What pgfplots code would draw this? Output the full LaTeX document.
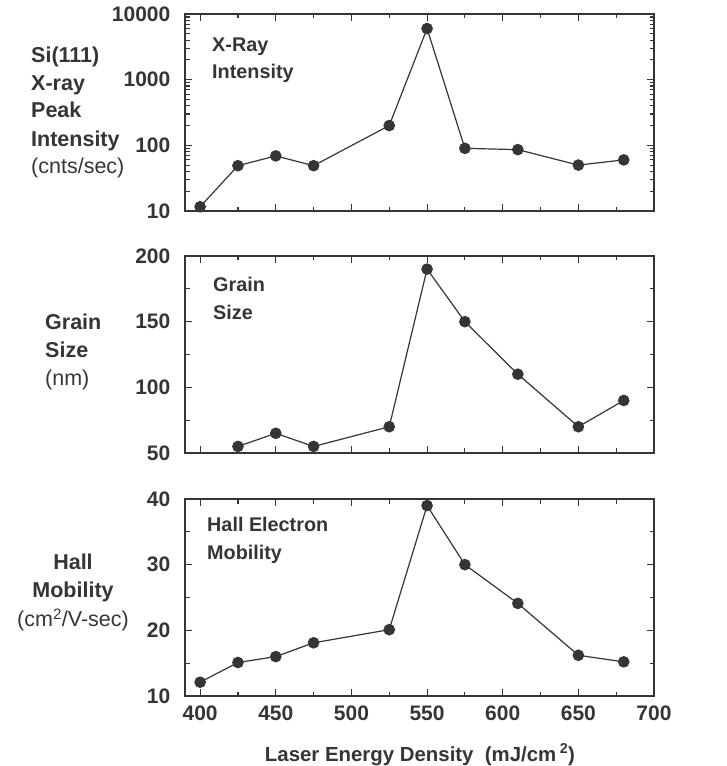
\documentclass[border=0pt]{standalone}
\usepackage{pgfplots}
\pgfplotsset{compat=1.18}
\usepackage{fontspec}
\setmainfont{Liberation Sans}
\definecolor{ink}{HTML}{353535}
\begin{document}
\fontsize{19.5}{23}\selectfont
\begin{tikzpicture}[x=1pt,y=1pt]
\path[use as bounding box] (0pt,0pt) rectangle (727pt,766pt);
\pgfplotsset{
  every axis/.append style={
    scale only axis, width=469pt, height=197pt, anchor=south west,
    xmin=390, xmax=700, clip=false,
    axis line style={ink, line width=1.4pt},
    every tick/.style={ink, line width=1.1pt},
    major tick length=7pt, minor tick length=4.5pt,
    tick align=inside,
    xtick={400,450,...,700},
    minor xtick={425,475,...,675},
    /pgf/number format/assume math mode=true,
    ticklabel style={font=\fontsize{21}{24}\selectfont\bfseries, text=ink},
    yticklabel style={xshift=-8pt},
    xticklabel style={yshift=-3pt},
  },
  dataline/.style={ink, line width=1.2pt, mark=*, mark size=5.2pt, mark options={fill=ink, draw=ink, solid}},
}
% ---- top: X-ray intensity (log)
\begin{axis}[at={(185pt,555pt)}, ymode=log, ymin=10, ymax=10000,
  ytick={10,100,1000,10000}, yticklabels={10,100,1000,10000},
  xticklabels={}]
\addplot[dataline] coordinates {(400,11.6) (425,49) (450,69) (475,49) (525,200) (550,6000) (575,90) (610,86) (650,50) (680,60)};
\end{axis}
% ---- middle: grain size
\begin{axis}[at={(185pt,313pt)}, ymin=50, ymax=200,
  ytick={50,100,150,200}, minor ytick={75,125,175},
  xticklabels={}]
\addplot[dataline] coordinates {(425,55) (450,65) (475,55) (525,70) (550,190) (575,150) (610,110) (650,70) (680,90)};
\end{axis}
% ---- bottom: Hall mobility
\begin{axis}[at={(185pt,70pt)}, ymin=10, ymax=40,
  ytick={10,20,30,40}, minor ytick={15,25,35},
  xticklabels={400,450,500,550,600,650,700}]
\addplot[dataline] coordinates {(400,12.1) (425,15.1) (450,16) (475,18.1) (525,20.1) (550,39) (575,30) (610,24.1) (650,16.2) (680,15.2)};
\end{axis}
% ---- left labels
\begin{scope}[every node/.style={text=ink, inner sep=0pt, font=\fontsize{21.5}{25}\selectfont}]
\node[anchor=base west] at (31pt,703pt) {\bfseries Si(111)};
\node[anchor=base west] at (31pt,675pt) {\bfseries X-ray};
\node[anchor=base west] at (31pt,648pt) {\bfseries Peak};
\node[anchor=base west] at (31pt,619pt) {\bfseries Intensity};
\node[anchor=base west] at (31pt,592pt) {(cnts/sec)};
\node[anchor=base west] at (45pt,436pt) {\bfseries Grain};
\node[anchor=base west] at (45pt,408pt) {\bfseries Size};
\node[anchor=base west] at (45pt,380pt) {(nm)};
\node[anchor=base] at (73pt,196pt) {\bfseries Hall};
\node[anchor=base] at (73pt,168pt) {\bfseries Mobility};
\node[anchor=base] at (73pt,139pt) {(cm\textsuperscript{2}/V-sec)};
\end{scope}
% ---- inside labels
\begin{scope}[every node/.style={text=ink, inner sep=0pt, font=\fontsize{19.8}{23}\selectfont\bfseries}]
\node[anchor=base west] at (212pt,714pt) {X-Ray};
\node[anchor=base west] at (212pt,687pt) {Intensity};
\node[anchor=base west] at (213pt,474pt) {Grain};
\node[anchor=base west] at (213pt,446pt) {Size};
\node[anchor=base west] at (207pt,234pt) {Hall Electron};
\node[anchor=base west] at (207pt,206pt) {Mobility};
% ---- x label
\node[anchor=base, font=\fontsize{20.4}{24}\selectfont\bfseries] at (420pt,5pt) {Laser Energy Density~~(mJ/cm\,\textsuperscript{2})};
\end{scope}
\end{tikzpicture}
\end{document}
